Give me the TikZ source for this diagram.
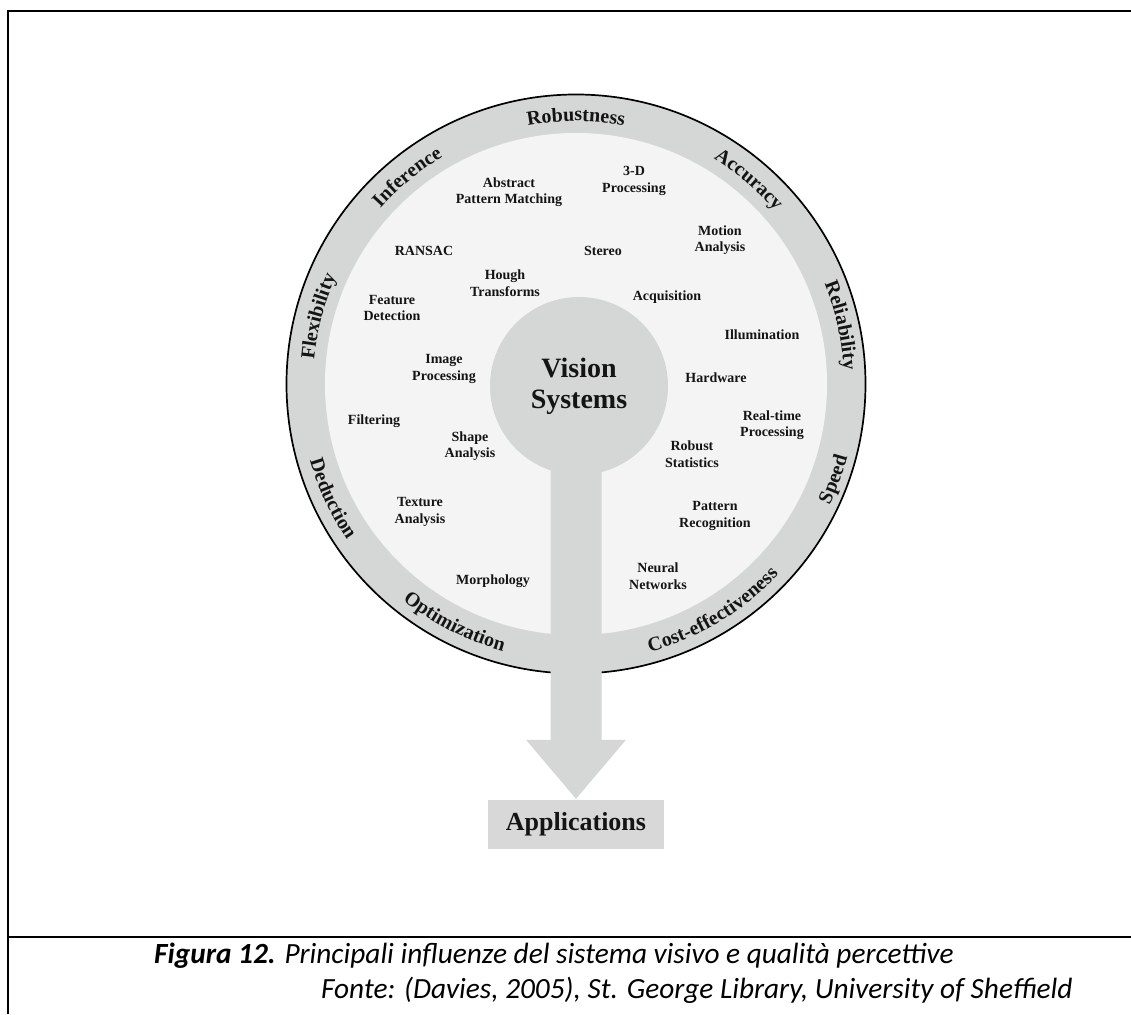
\documentclass[tikz,border=0pt]{standalone}
\usepackage{fontspec}
\setmainfont{Liberation Serif}
\newfontfamily\capfont{Carlito}
\usetikzlibrary{decorations.text,calc}
\definecolor{ringgray}{HTML}{D5D7D7}
\definecolor{innerfill}{HTML}{F4F4F4}
\definecolor{boxgray}{HTML}{D8D8D8}
\definecolor{txt}{HTML}{141414}
\newcommand\ringfont{\fontsize{20}{20}\selectfont\bfseries}
\pgfdeclarelayer{bg}
\pgfsetlayers{bg,main}
\begin{document}
\begin{tikzpicture}[x=1pt,y=1pt,
  lbl/.style={font=\fontsize{14}{16.5}\selectfont\bfseries, align=center, text=txt, inner sep=0pt},
  ringtop/.style={decorate, decoration={text along path, text align=center, text color=txt, text={|\ringfont|#1}}},
  ringbot/.style={decorate, decoration={text along path, text align=center, text color=txt, text={|\ringfont|#1}}},
  caption/.style={font=\capfont\fontsize{29.3}{35}\selectfont\itshape, anchor=base west, inner sep=0pt}
]
\useasboundingbox (-576,-630) rectangle (555,384);
\begin{pgfonlayer}{bg}
\fill[white] (-576,-630) rectangle (555,384);
% ring and inner area
\draw[fill=ringgray, line width=1.7pt] (0,0) circle[radius=289.5pt];
\fill[innerfill] (0,0) circle[radius=251pt];
\end{pgfonlayer}
% frame
\draw[line width=2.5pt] (-568,-630) -- (-568,373) -- (555,373);
\draw[line width=2pt] (-568,-553) -- (555,-553);
% central disc and applications box
\node[circle, fill=ringgray, minimum size=178pt, inner sep=0pt,
      font=\fontsize{28}{31}\selectfont\bfseries, align=center, text=txt] (vs) at (3,-2) {Vision\\Systems};
\node[fill=boxgray, minimum width=176pt, minimum height=49pt, inner sep=0pt,
      font=\fontsize{26}{26}\selectfont\bfseries, text=txt] (app) at (0,-440.5) {Applications};
% stem arrow from disc to box
\begin{pgfonlayer}{bg}
\fill[ringgray] let \p1=(vs.center), \p2=(app.north) in
  (\x2-25.5,\y1) -- (\x2-25.5,\y2+60) -- (\x2-50,\y2+60) -- (\x2,\y2+1) --
  (\x2+50,\y2+60) -- (\x2+25.5,\y2+60) -- (\x2+25.5,\y1) -- cycle;
\end{pgfonlayer}
% inner labels
\node[lbl] (apm) at (-67,192) {Abstract\\Pattern Matching};
\node[lbl] (tdp) at (58,203) {3-D\\Processing};
\node[lbl] (mot) at (144,144) {Motion\\Analysis};
\node[lbl] (ran) at (-152,133) {RANSAC};
\node[lbl] (ste) at (27,133) {Stereo};
\node[lbl] (hou) at (-71,101) {Hough\\Transforms};
\node[lbl] (acq) at (91,87) {Acquisition};
\node[lbl] (fea) at (-184,76) {Feature\\Detection};
\node[lbl] (ill) at (186,49) {Illumination};
\node[lbl] (imp) at (-132,15) {Image\\Processing};
\node[lbl] (har) at (140,6) {Hardware};
\node[lbl] (fil) at (-202,-37) {Filtering};
\node[lbl] (rtp) at (196,-41) {Real-time\\Processing};
\node[lbl] (sha) at (-106,-62) {Shape\\Analysis};
\node[lbl] (rob) at (116,-70) {Robust\\Statistics};
\node[lbl] (tex) at (-156,-128) {Texture\\Analysis};
\node[lbl] (par) at (139,-132) {Pattern\\Recognition};
\node[lbl] (mor) at (-83,-197) {Morphology};
\node[lbl] (neu) at (82,-192) {Neural\\Networks};
% ring labels (top half: clockwise paths; bottom half: counter-clockwise paths)
\path[ringtop={Robustness}] (130:263pt) arc[start angle=130, end angle=50, radius=263pt];
\path[ringtop={Accuracy}] (89.8:264pt) arc[start angle=89.8, end angle=9.8, radius=264pt];
\path[ringtop={Inference}] (169.2:263pt) arc[start angle=169.2, end angle=89.2, radius=263pt];
\path[ringtop={Flexibility}] (205.3:263pt) arc[start angle=205.3, end angle=125.3, radius=263pt];
\path[ringtop={Reliability}] (52.5:268pt) arc[start angle=52.5, end angle=-27.5, radius=268pt];
\path[ringbot={Speed}] (-60.3:281pt) arc[start angle=-60.3, end angle=19.7, radius=281pt];
\path[ringbot={Cost-effectiveness}] (-98.9:278pt) arc[start angle=-98.9, end angle=-18.9, radius=278pt];
\path[ringbot={Optimization}] (-157:277pt) arc[start angle=-157, end angle=-77, radius=277pt];
\path[ringbot={Deduction}] (-194.8:277pt) arc[start angle=-194.8, end angle=-114.8, radius=277pt];
% caption
\node[caption] (cap1) at (-422,-579) {{\bfseries Figura 12.} Principali influenze del sistema visivo e qualità percettive};
\node[caption] (cap2) at (-255,-614) {Fonte: (Davies, 2005), St. George Library, University of Sheffield};
\end{tikzpicture}
\end{document}
